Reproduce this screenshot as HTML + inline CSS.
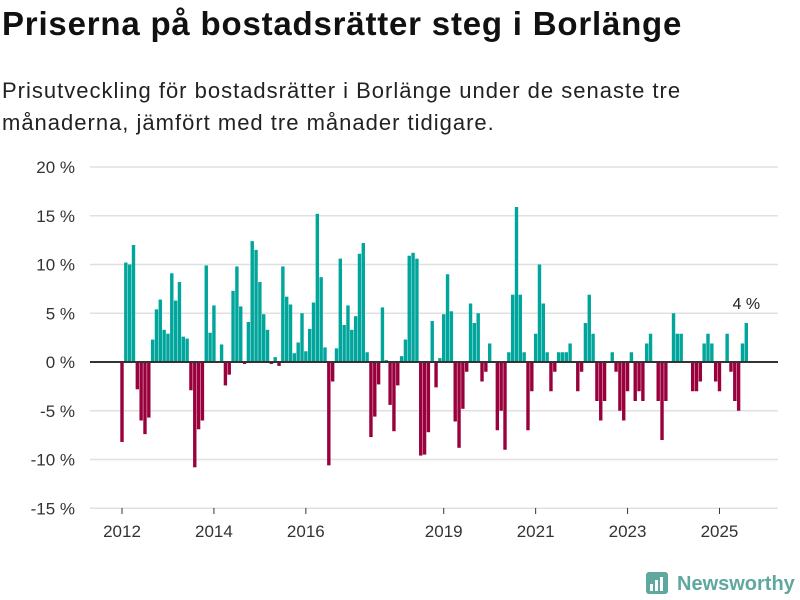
<!DOCTYPE html>
<html><head><meta charset="utf-8"><style>
body{margin:0;width:800px;height:600px;background:#fff;font-family:"Liberation Sans",sans-serif;overflow:hidden;position:relative}
h1{position:absolute;left:2px;top:5px;margin:0;font-size:33px;letter-spacing:0.8px;font-weight:bold;color:#111}
p.sub{position:absolute;left:2px;top:75px;margin:0;font-size:22px;letter-spacing:1px;line-height:32px;color:#222}
svg{position:absolute;left:0;top:0}
</style></head><body>
<h1>Priserna på bostadsrätter steg i Borlänge</h1>
<p class="sub">Prisutveckling för bostadsrätter i Borlänge under de senaste tre<br>månaderna, jämfört med tre månader tidigare.</p>
<svg id="c" width="800" height="600"></svg>
<script>
const values=[-8.2,10.2,10.0,12.0,-2.8,-6.0,-7.4,-5.7,2.3,5.4,6.4,3.3,2.9,9.1,6.3,8.2,2.6,2.4,-2.9,-10.8,-6.9,-6.0,9.9,3.0,5.8,0,1.8,-2.4,-1.3,7.3,9.8,5.7,-0.2,4.1,12.4,11.5,8.2,4.9,3.3,-0.2,0.5,-0.4,9.8,6.7,5.9,0.9,2.0,5.0,1.1,3.4,6.1,15.2,8.7,1.5,-10.6,-2.0,1.4,10.6,3.8,5.8,3.3,4.7,11.1,12.2,1.0,-7.7,-5.6,-2.3,5.6,0.2,-4.4,-7.1,-2.4,0.6,2.3,10.9,11.2,10.6,-9.6,-9.5,-7.2,4.2,-2.6,0.4,4.9,9.0,5.2,-6.1,-8.8,-4.8,-1.0,6.0,4.0,5.0,-2.0,-1.0,1.9,0,-7.0,-5.0,-9.0,1.0,6.9,15.9,6.9,1.0,-7.0,-3.0,2.9,10.0,6.0,1.0,-3.0,-1.0,1.0,1.0,1.0,1.9,0,-3.0,-1.0,4.0,6.9,2.9,-4.0,-6.0,-4.0,0,1.0,-1.0,-5.0,-6.0,-3.0,1.0,-4.0,-3.0,-4.0,1.9,2.9,0,-4.0,-8.0,-4.0,0,5.0,2.9,2.9,0,0,-3.0,-3.0,-2.0,1.9,2.9,1.9,-2.0,-3.0,0,2.9,-1.0,-4.0,-5.0,1.9,4.0];
const yTicks=[20,15,10,5,0,-5,-10,-15];
const yearLabels=[2012,2014,2016,2019,2021,2023,2025];
const startYear=2012;
const lastLabel="4 %";
const NS="http://www.w3.org/2000/svg";
const svg=document.getElementById('c');
const y=v=>362-v*9.75;
const x=i=>122+i*3.83;
function mk(t,a){const e=document.createElementNS(NS,t);for(const k in a)e.setAttribute(k,a[k]);svg.appendChild(e);return e;}
yTicks.forEach(t=>{
  const g=mk('line',{x1:90,x2:778,y1:y(t),y2:y(t),stroke:'#e0e0e0','stroke-width':1.5});
  
  
  const l=mk('text',{x:75,y:y(t)+6,'text-anchor':'end','font-size':17,fill:'#333'});
  l.textContent=t+' %';
  
  
});
values.forEach((v,i)=>{
  if(v===0)return;
  const b=mk('rect',{x:x(i)-1.7,width:3.4,y:Math.min(y(v),362),height:Math.abs(y(v)-362),fill:v>0?'#00a59b':'#99003c'});
  
  
});
const z=mk('line',{x1:90,x2:778,y1:362,y2:362,stroke:'#333','stroke-width':2});


yearLabels.forEach(yr=>{
  const xi=x((yr-startYear)*12);
  const t=mk('line',{x1:xi,x2:xi,y1:508,y2:514,stroke:'#333','stroke-width':1});
  
  
  const l=mk('text',{x:xi,y:537,'text-anchor':'middle','font-size':17,fill:'#333'});
  l.textContent=yr;
  
  
});
const li=values.length-1;
const ll=mk('text',{x:x(li),y:y(values[li])-14,'text-anchor':'middle','font-size':16,fill:'#222'});
ll.textContent=lastLabel;


</script>
<svg width="800" height="600" style="pointer-events:none">
<rect x="646" y="572" width="22" height="22" rx="3" fill="#5fa89e"/>
<rect x="650" y="584" width="3" height="7" fill="#fff"/><rect x="655" y="580" width="3" height="11" fill="#fff"/><rect x="660" y="577" width="3" height="14" fill="#fff"/>
<text x="677" y="590" font-size="20" font-weight="bold" fill="#5fa89e" font-family="Liberation Sans, sans-serif">Newsworthy</text>
</svg>
</body></html>
